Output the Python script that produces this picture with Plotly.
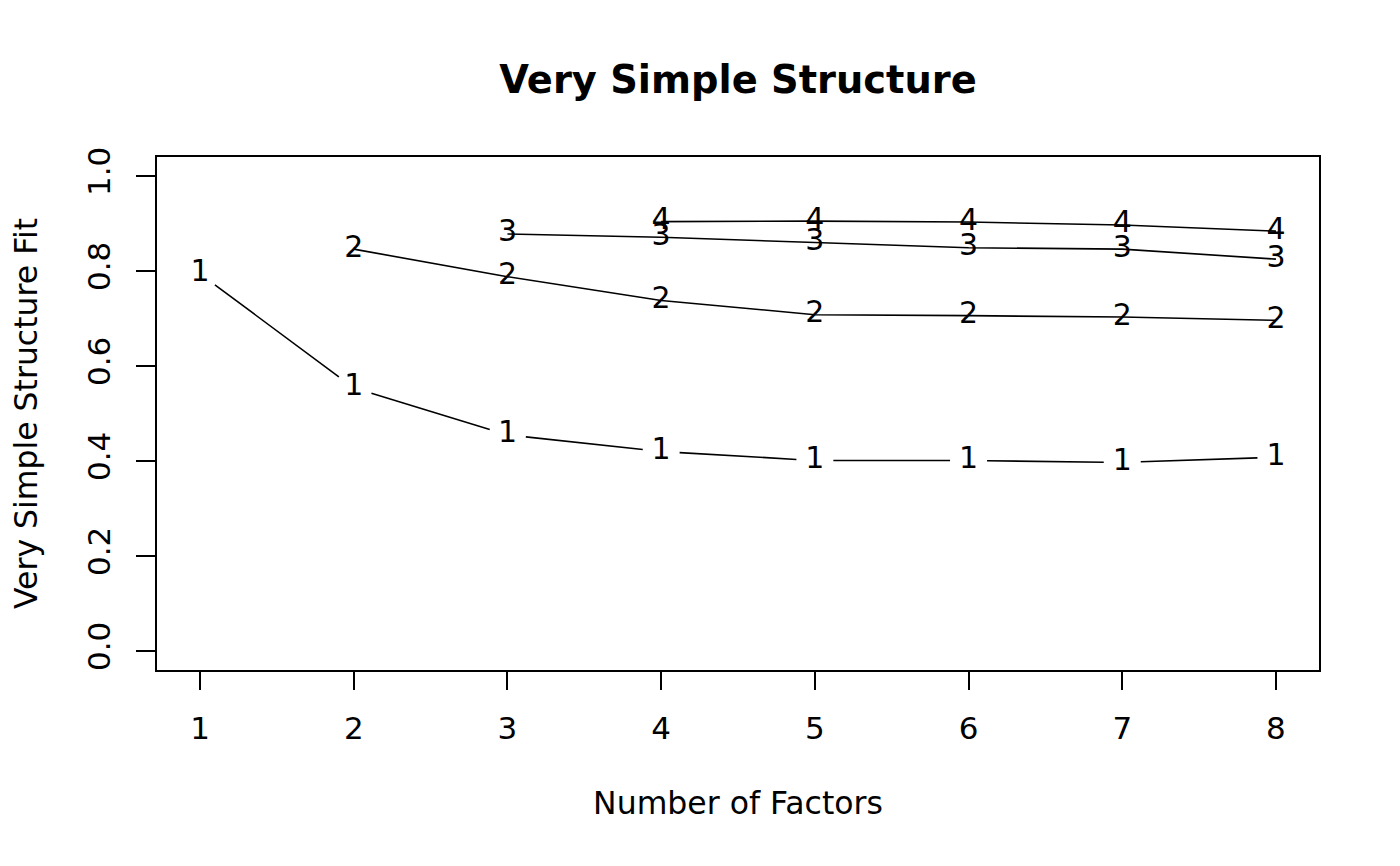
import numpy as np
import plotly.graph_objects as go

# VSS fit values, one list per complexity
n_factors = [1, 2, 3, 4, 5, 6, 7, 8]
fit_c1 = [0.794, 0.554, 0.455, 0.420, 0.401, 0.401, 0.397, 0.408]
fit_c2 = [0.846, 0.788, 0.738, 0.708, 0.706, 0.703, 0.696]
fit_c3 = [0.878, 0.871, 0.860, 0.849, 0.846, 0.825]
fit_c4 = [0.904, 0.905, 0.903, 0.897, 0.884]
y_ticks = [0.0, 0.2, 0.4, 0.6, 0.8, 1.0]

# page has an 8px body margin, so the figure is a bit smaller than the window
W, H = 1384, 850
L, R, T, B = 149, 73, 149, 188
xr = [0.72, 8.28]
yr = [-0.04, 1.04]
pw, ph = W - L - R, H - T - B

def to_px(x, y):
    return (np.asarray(x) - xr[0]) / (xr[1] - xr[0]) * pw, (np.asarray(y) - yr[0]) / (yr[1] - yr[0]) * ph

def to_data(px, py):
    return px / pw * (xr[1] - xr[0]) + xr[0], py / ph * (yr[1] - yr[0]) + yr[0]

# type="b" style: segments stop short of the plotted characters
def gapped(x, y, gap=18.5):
    px, py = to_px(x, y)
    gx, gy = [], []
    for i in range(len(px) - 1):
        dx, dy = px[i + 1] - px[i], py[i + 1] - py[i]
        d = np.hypot(dx, dy)
        ux, uy = dx / d, dy / d
        a = to_data(px[i] + ux * gap, py[i] + uy * gap)
        b = to_data(px[i + 1] - ux * gap, py[i + 1] - uy * gap)
        gx += [a[0], b[0], None]
        gy += [a[1], b[1], None]
    return gx, gy

font = "DejaVu Sans"
fs = 31.5
fig = go.Figure()

sx, sy = gapped(n_factors, fit_c1)
fig.add_trace(go.Scatter(x=sx, y=sy, mode="lines", line=dict(color="black", width=1.6)))

for k, vals in [(2, fit_c2), (3, fit_c3), (4, fit_c4)]:
    xs = n_factors[k - 1:]
    fig.add_trace(go.Scatter(x=xs, y=vals, mode="lines", line=dict(color="black", width=1.6)))

for k, vals in [(1, fit_c1), (2, fit_c2), (3, fit_c3), (4, fit_c4)]:
    xs = n_factors[k - 1:]
    fig.add_trace(go.Scatter(x=xs, y=vals, mode="text", text=[str(k)] * len(xs),
                             textposition="middle center",
                             textfont=dict(family=font, size=30, color="black")))

fig.update_layout(
    width=W, height=H,
    margin=dict(l=L, r=R, t=T, b=B),
    paper_bgcolor="white", plot_bgcolor="white",
    showlegend=False,
    font=dict(family=font, size=fs, color="black"),
    title=dict(text="<b>Very Simple Structure</b>", x=(L + pw / 2) / W, xanchor="center",
               y=1 - 72 / H, yanchor="middle", font=dict(size=38.4)),
)
fig.update_xaxes(range=xr, tickvals=n_factors, showgrid=False, zeroline=False,
                 showline=True, mirror=True, linecolor="black", linewidth=1.6,
                 ticks="outside", ticklen=18, tickwidth=1.6, tickcolor="black",
                 ticklabelstandoff=12, tickfont=dict(size=31),
                 title=dict(text="Number of Factors", standoff=47, font=dict(size=fs)))
fig.update_yaxes(range=yr, tickvals=y_ticks, tickformat=".1f", tickangle=-90,
                 showgrid=False, zeroline=False,
                 showline=True, mirror=True, linecolor="black", linewidth=1.6,
                 ticks="outside", ticklen=19, tickwidth=1.6, tickcolor="black",
                 ticklabelstandoff=14, tickfont=dict(size=31),
                 title=dict(text="Very Simple Structure Fit", standoff=40, font=dict(size=fs)))

fig.write_html("out.html")
